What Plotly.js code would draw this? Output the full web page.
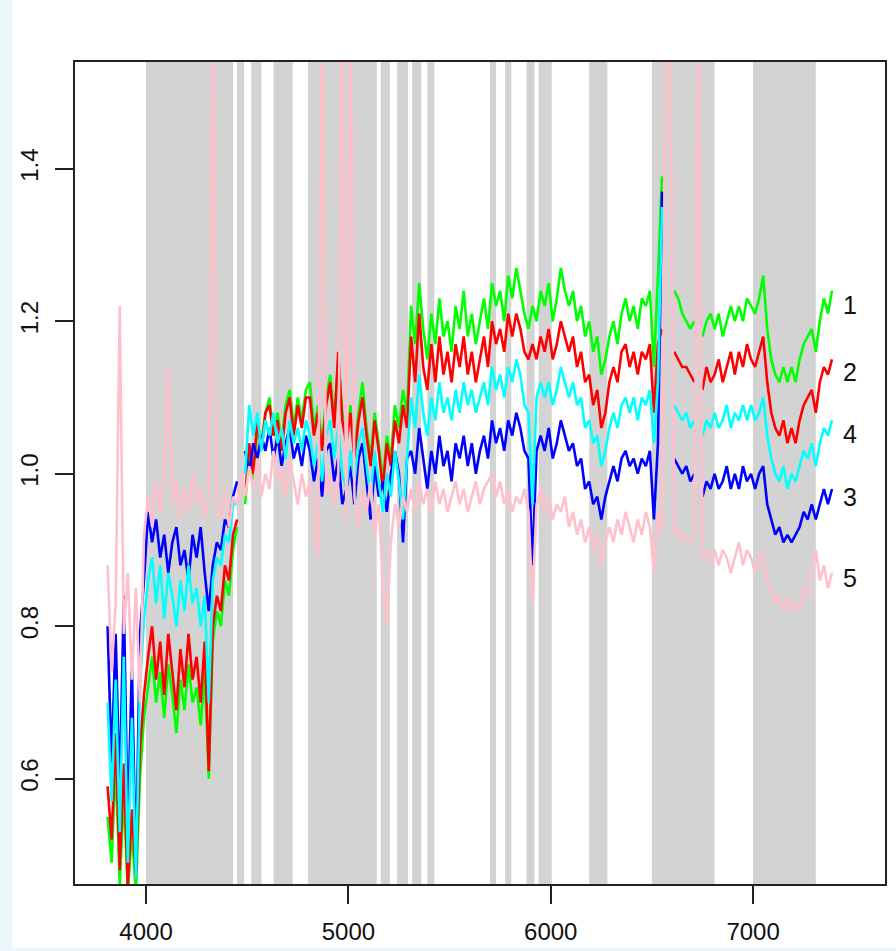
<!DOCTYPE html>
<html>
<head>
<meta charset="utf-8">
<script src="https://cdn.plot.ly/plotly-3.0.1.min.js"></script>
<style>
  html, body { margin: 0; padding: 0; background: #ECF6FB; width: 896px; height: 951px; overflow: hidden; }
  #chart { position: absolute; left: 12px; top: 0px; width: 884px; height: 948px; background: #ffffff; }
</style>
</head>
<body>
<div id="chart"></div>
<script>
// Wavelength grid (Angstrom)
const wavelength = [3810,3830,3850,3870,3890,3910,3930,3950,3970,3990,
4010,4030,4050,4070,4090,4110,4130,4150,4170,4190,
4210,4230,4250,4270,4290,4310,4330,4350,4370,4390,
4410,4430,4450,4470,4490,4510,4530,4550,4570,4590,
4610,4630,4650,4670,4690,4710,4730,4750,4770,4790,
4810,4830,4850,4870,4890,4910,4930,4950,4970,4990,
5010,5030,5050,5070,5090,5110,5130,5150,5170,5190,
5210,5230,5250,5270,5290,5310,5330,5350,5370,5390,
5410,5430,5450,5470,5490,5510,5530,5550,5570,5590,
5610,5630,5650,5670,5690,5710,5730,5750,5770,5790,
5810,5830,5850,5870,5890,5910,5930,5950,5970,5990,
6010,6030,6050,6070,6090,6110,6130,6150,6170,6190,
6210,6230,6250,6270,6290,6310,6330,6350,6370,6390,
6410,6430,6450,6470,6490,6510,6530,6550,6570,6590,
6610,6630,6650,6670,6690,6710,6730,6750,6770,6790,
6810,6830,6850,6870,6890,6910,6930,6950,6970,6990,
7010,7030,7050,7070,7090,7110,7130,7150,7170,7190,
7210,7230,7250,7270,7290,7310,7330,7350,7370,7390];

// Series 1 (green)
const spec1 = [0.55,0.49,0.62,0.46,0.58,0.45,0.53,0.45,0.60,0.68,
0.72,0.76,0.70,0.74,0.68,0.75,0.71,0.66,0.73,0.69,
0.75,0.70,0.72,0.67,0.74,0.60,0.78,0.82,0.80,0.86,
0.84,0.90,0.93,null,0.96,1.03,0.99,1.06,1.04,1.08,
1.10,1.05,1.08,1.04,1.09,1.11,1.06,1.10,1.07,1.11,
1.12,1.06,1.09,1.04,1.10,1.13,1.07,1.15,1.08,1.05,
1.09,1.03,1.08,1.12,1.06,1.02,1.08,1.04,0.99,1.05,
1.02,1.09,1.06,1.11,1.08,1.22,1.17,1.25,1.19,1.15,
1.21,1.17,1.23,1.18,1.20,1.16,1.22,1.19,1.24,1.18,
1.21,1.17,1.20,1.23,1.19,1.25,1.22,1.24,1.20,1.26,
1.23,1.27,1.24,1.21,1.19,1.22,1.20,1.24,1.22,1.25,
1.20,1.23,1.27,1.24,1.22,1.24,1.20,1.22,1.18,1.20,
1.16,1.18,1.13,1.15,1.18,1.20,1.17,1.21,1.23,1.20,
1.22,1.19,1.23,1.22,1.24,1.14,1.26,1.39,null,null,
1.24,1.23,1.21,1.20,1.19,1.20,null,1.18,1.20,1.21,
1.19,1.21,1.18,1.20,1.22,1.20,1.22,1.20,1.23,1.22,
1.21,1.23,1.26,1.19,1.15,1.13,1.12,1.14,1.12,1.14,
1.12,1.15,1.17,1.18,1.19,1.16,1.20,1.23,1.21,1.24];

// Series 2 (red)
const spec2 = [0.59,0.52,0.66,0.48,0.62,0.46,0.56,0.47,0.64,0.71,
0.76,0.80,0.73,0.78,0.71,0.79,0.74,0.69,0.77,0.72,
0.79,0.73,0.76,0.70,0.78,0.61,0.80,0.84,0.82,0.88,
0.86,0.92,0.94,null,0.97,1.04,1.00,1.07,1.03,1.08,
1.09,1.05,1.07,1.03,1.08,1.10,1.05,1.09,1.06,1.10,
1.10,1.05,1.08,1.03,1.09,1.12,1.06,1.16,1.07,1.04,
1.08,1.02,1.07,1.10,1.05,1.01,1.07,1.03,0.98,1.04,
1.01,1.07,1.04,1.09,1.06,1.18,1.12,1.21,1.14,1.11,
1.17,1.12,1.18,1.13,1.16,1.12,1.17,1.14,1.18,1.13,
1.16,1.12,1.15,1.18,1.14,1.20,1.17,1.19,1.16,1.21,
1.18,1.21,1.19,1.16,1.15,1.17,1.15,1.18,1.16,1.19,
1.15,1.17,1.20,1.18,1.16,1.18,1.14,1.16,1.12,1.13,
1.09,1.11,1.06,1.08,1.12,1.14,1.12,1.16,1.17,1.14,
1.16,1.13,1.16,1.15,1.17,1.08,1.17,1.19,null,null,
1.16,1.15,1.14,1.14,1.13,1.12,null,1.11,1.14,1.12,
1.13,1.15,1.12,1.14,1.16,1.13,1.16,1.14,1.17,1.15,
1.14,1.16,1.18,1.12,1.08,1.06,1.05,1.07,1.04,1.06,
1.04,1.07,1.09,1.10,1.11,1.08,1.12,1.14,1.13,1.15];

// Series 3 (blue)
const spec3 = [0.80,0.62,0.79,0.58,0.84,0.53,0.75,0.48,0.79,0.86,
0.95,0.91,0.94,0.89,0.92,0.87,0.91,0.93,0.88,0.90,
0.86,0.92,0.89,0.93,0.87,0.82,0.88,0.91,0.90,0.94,
0.93,0.97,0.99,null,1.03,1.00,1.04,1.02,1.05,1.03,
1.06,1.02,1.05,1.01,1.04,1.06,1.02,1.04,1.01,1.05,
1.03,0.99,1.02,0.97,1.03,1.04,0.99,1.02,0.96,0.98,
1.01,0.96,1.02,1.04,0.99,0.94,1.01,0.97,0.99,0.95,
1.00,1.03,1.00,0.91,1.02,1.03,1.00,1.06,1.02,0.98,
1.03,1.00,1.05,1.01,1.03,0.99,1.04,1.02,1.05,1.01,
1.04,1.00,1.03,1.05,1.02,1.07,1.04,1.06,1.03,1.07,
1.05,1.08,1.06,1.03,1.02,0.88,1.03,1.05,1.03,1.06,
1.02,1.04,1.07,1.05,1.03,1.04,1.01,1.02,0.98,0.99,
0.96,0.97,0.94,0.97,0.99,1.01,0.99,1.02,1.03,1.01,
1.02,1.00,1.02,1.01,1.03,0.94,1.04,1.37,null,null,
1.02,1.01,1.00,1.01,0.99,1.00,null,0.97,0.99,0.98,
1.00,0.98,0.99,1.01,0.98,1.00,0.98,1.01,0.99,1.00,
0.98,1.00,1.01,0.96,0.94,0.92,0.93,0.91,0.92,0.91,
0.92,0.93,0.95,0.94,0.96,0.94,0.96,0.98,0.96,0.98];

// Series 4 (cyan)
const spec4 = [0.70,0.57,0.73,0.53,0.76,0.49,0.68,0.47,0.72,0.81,
0.86,0.89,0.83,0.88,0.81,0.87,0.84,0.80,0.86,0.82,
0.88,0.83,0.85,0.80,0.84,0.70,0.86,0.89,0.88,0.92,
0.91,0.96,0.96,null,1.00,1.09,1.05,1.08,1.03,1.07,
1.05,1.08,1.04,1.06,1.02,1.07,1.04,1.06,1.03,1.07,
1.05,1.01,1.04,0.99,1.05,1.07,1.02,1.06,1.00,0.98,
1.03,0.99,1.04,1.06,1.01,0.97,1.03,0.99,0.95,1.00,
0.97,1.03,0.99,0.94,1.02,1.10,1.06,1.13,1.08,1.05,
1.10,1.07,1.12,1.08,1.10,1.07,1.11,1.08,1.12,1.09,
1.11,1.08,1.10,1.12,1.09,1.14,1.11,1.13,1.10,1.14,
1.12,1.15,1.13,1.09,1.08,0.96,1.10,1.12,1.10,1.12,
1.09,1.11,1.14,1.12,1.10,1.12,1.09,1.10,1.06,1.07,
1.04,1.05,1.01,1.03,1.06,1.08,1.06,1.09,1.10,1.08,
1.10,1.07,1.10,1.09,1.11,1.04,1.12,1.35,null,null,
1.09,1.08,1.07,1.08,1.06,1.07,null,1.05,1.07,1.06,
1.08,1.06,1.07,1.09,1.06,1.08,1.07,1.09,1.07,1.09,
1.07,1.08,1.10,1.05,1.02,1.00,0.99,1.01,0.98,1.00,
0.99,1.01,1.03,1.02,1.04,1.01,1.04,1.06,1.05,1.07];

// Series 5 (pink)
const spec5 = [0.88,0.74,0.83,1.22,0.79,0.87,0.73,0.85,0.70,0.92,
0.97,0.93,0.99,0.95,1.01,1.14,0.96,0.99,0.94,0.98,
0.95,1.00,0.96,0.98,0.94,0.97,1.60,0.96,0.94,0.98,
0.93,0.97,0.96,1.00,0.97,1.01,0.98,1.02,0.97,1.00,
0.98,1.03,0.99,1.01,0.97,1.02,0.99,0.96,1.00,0.97,
0.99,0.95,0.89,1.60,0.97,1.00,0.96,0.99,1.60,0.94,
1.60,0.97,0.93,0.98,0.95,0.99,0.92,0.96,0.86,0.80,
0.91,0.96,0.93,0.97,0.95,0.98,0.95,0.99,0.96,0.98,
0.95,0.99,0.96,0.98,0.95,0.97,0.99,0.96,0.98,0.95,
0.97,0.99,0.96,0.98,0.99,1.00,0.97,0.99,0.96,0.98,
0.95,0.97,0.96,0.98,0.95,0.83,0.96,0.98,0.95,0.97,
0.94,0.96,0.95,0.97,0.93,0.95,0.92,0.94,0.91,0.93,
0.90,0.92,0.88,0.91,0.93,0.91,0.94,0.92,0.95,0.93,
0.91,0.94,0.92,0.95,0.93,0.87,0.95,0.92,1.60,1.60,
0.92,0.93,0.91,0.92,0.91,0.92,1.60,0.89,0.90,0.88,
0.90,0.88,0.90,0.89,0.87,0.89,0.91,0.88,0.90,0.89,
0.87,0.89,0.90,0.86,0.85,0.83,0.84,0.82,0.84,0.82,
0.83,0.82,0.85,0.84,0.87,0.90,0.86,0.88,0.85,0.87];

const seriesColors = ['#00FF00', '#FF0000', '#0000FF', '#00FFFF', '#FFC0CB'];

// Masked wavelength regions (grey bands)
const bandStart = [4000,4450,4520,4630,4800,5160,5240,5315,5390,5700,5775,5880,5940,6190,6500,7000];
const bandEnd   = [4430,4485,4570,4725,5140,5205,5295,5360,5425,5730,5805,5920,6005,6280,6810,7310];

// Curve labels at right
const labelText = ['1', '2', '4', '3', '5'];
const labelY = [1.221, 1.134, 1.052, 0.969, 0.863];
const labelX = 7480;

const xTicks = [4000, 5000, 6000, 7000];
const yTicks = [0.6, 0.8, 1.0, 1.2, 1.4];

const allSpec = [spec1, spec2, spec3, spec4, spec5];
const traces = allSpec.map((s, i) => ({
  x: wavelength, y: s, type: 'scatter', mode: 'lines',
  line: { color: seriesColors[i], width: 2.6, shape: 'linear' },
  connectgaps: false, hoverinfo: 'skip', showlegend: false
}));

const shapes = bandStart.map((b, i) => ({
  type: 'rect', xref: 'x', yref: 'paper', x0: b, x1: bandEnd[i], y0: 0, y1: 1,
  fillcolor: '#D3D3D3', line: { width: 0 }, layer: 'below'
}));

const annotations = labelText.map((t, i) => ({
  x: labelX, y: labelY[i], xref: 'x', yref: 'y', text: t, showarrow: false,
  font: { family: 'Liberation Sans, Arial, sans-serif', size: 25, color: '#111' },
  xanchor: 'center', yanchor: 'middle'
}));

const axisFont = { family: 'Liberation Sans, Arial, sans-serif', size: 24, color: '#111' };

const layout = {
  width: 884, height: 948,
  margin: { l: 63, r: 11, t: 62, b: 64 },
  paper_bgcolor: '#ffffff', plot_bgcolor: '#ffffff',
  showlegend: false,
  xaxis: {
    range: [3649, 7652], showgrid: false, zeroline: false,
    tickmode: 'array', tickvals: xTicks, ticktext: xTicks.map(String),
    ticks: 'outside', ticklen: 18, tickwidth: 2, tickcolor: '#222',
    showline: true, linecolor: '#222', linewidth: 2, mirror: true,
    tickfont: axisFont, ticklabelstandoff: 7
  },
  yaxis: {
    range: [0.462, 1.540], showgrid: false, zeroline: false,
    tickmode: 'array', tickvals: yTicks, ticktext: yTicks.map(v => v.toFixed(1)),
    ticks: 'outside', ticklen: 18, tickwidth: 2, tickcolor: '#222',
    showline: true, linecolor: '#222', linewidth: 2, mirror: true,
    tickfont: axisFont, tickangle: -90, ticklabelstandoff: 7
  },
  shapes: shapes,
  annotations: annotations
};

Plotly.newPlot('chart', traces, layout, { staticPlot: true, displayModeBar: false });
</script>
</body>
</html>
